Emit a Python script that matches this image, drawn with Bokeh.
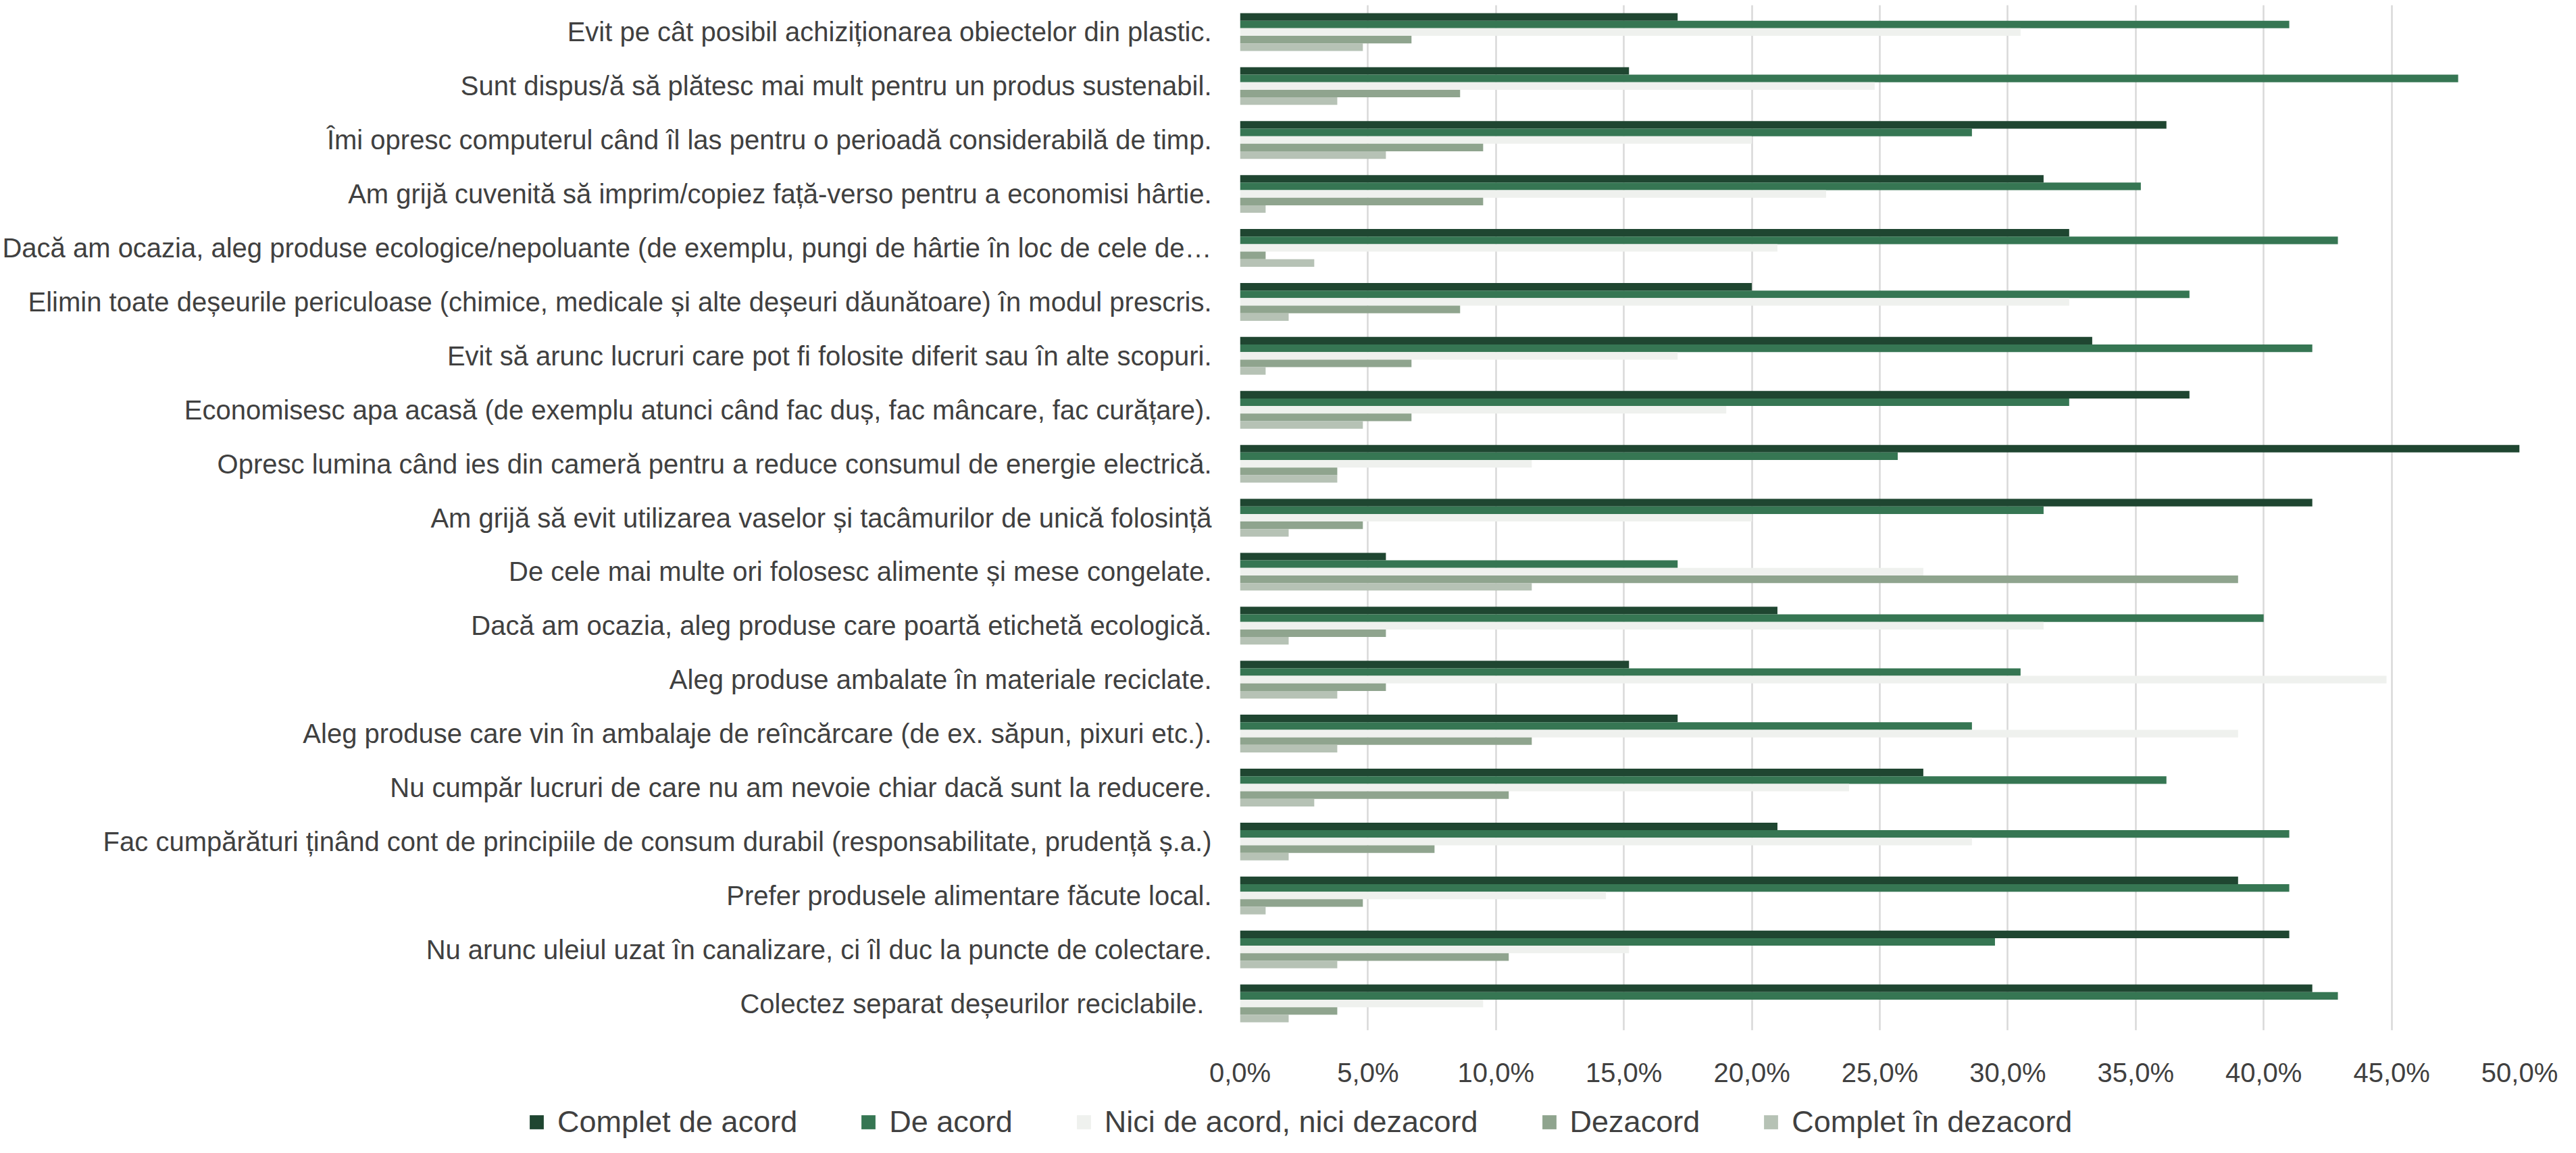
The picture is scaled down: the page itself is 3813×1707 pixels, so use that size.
from bokeh.plotting import figure
from bokeh.models import (FactorRange, Range1d, FixedTicker, Legend, LegendItem,
                          ColumnDataSource)
from bokeh.transform import dodge
from bokeh.layouts import column
from bokeh.embed import file_html
from bokeh.resources import INLINE

# ---------------- data ----------------
categories = [
    "Evit pe cât posibil achiziționarea obiectelor din plastic.",
    "Sunt dispus/ă să plătesc mai mult pentru un produs sustenabil.",
    "Îmi opresc computerul când îl las pentru o perioadă considerabilă de timp.",
    "Am grijă cuvenită să imprim/copiez față-verso pentru a economisi hârtie.",
    "Dacă am ocazia, aleg produse ecologice/nepoluante (de exemplu, pungi de hârtie în loc de cele de…",
    "Elimin toate deșeurile periculoase (chimice, medicale și alte deșeuri dăunătoare) în modul prescris.",
    "Evit să arunc lucruri care pot fi folosite diferit sau în alte scopuri.",
    "Economisesc apa acasă (de exemplu atunci când fac duș, fac mâncare, fac curățare).",
    "Opresc lumina când ies din cameră pentru a reduce consumul de energie electrică.",
    "Am grijă să evit utilizarea vaselor și tacâmurilor de unică folosință",
    "De cele mai multe ori folosesc alimente și mese congelate.",
    "Dacă am ocazia, aleg produse care poartă etichetă ecologică.",
    "Aleg produse ambalate în materiale reciclate.",
    "Aleg produse care vin în ambalaje de reîncărcare (de ex. săpun, pixuri etc.).",
    "Nu cumpăr lucruri de care nu am nevoie chiar dacă sunt la reducere.",
    "Fac cumpărături ținând cont de principiile de consum durabil (responsabilitate, prudență ș.a.)",
    "Prefer produsele alimentare făcute local.",
    "Nu arunc uleiul uzat în canalizare, ci îl duc la puncte de colectare.",
    "Colectez separat deșeurilor reciclabile. ",
]

series_names = ["Complet de acord", "De acord", "Nici de acord, nici dezacord",
                "Dezacord", "Complet în dezacord"]

complet_de_acord = [17.1, 15.2, 36.2, 31.4, 32.4, 20.0, 33.3, 37.1, 55.2, 41.9,
                    5.7, 21.0, 15.2, 17.1, 26.7, 21.0, 39.0, 41.0, 41.9]
de_acord = [41.0, 47.6, 28.6, 35.2, 42.9, 37.1, 41.9, 32.4, 25.7, 31.4,
            17.1, 40.0, 30.5, 28.6, 36.2, 41.0, 41.0, 29.5, 42.9]
nici_nici = [30.5, 24.8, 20.0, 22.9, 21.0, 32.4, 17.1, 19.0, 11.4, 20.0,
             26.7, 31.4, 44.8, 39.0, 23.8, 28.6, 14.3, 15.2, 9.5]
dezacord = [6.7, 8.6, 9.5, 9.5, 1.0, 8.6, 6.7, 6.7, 3.8, 4.8,
            39.0, 5.7, 5.7, 11.4, 10.5, 7.6, 4.8, 10.5, 3.8]
complet_dezacord = [4.8, 3.8, 5.7, 1.0, 2.9, 1.9, 1.0, 4.8, 3.8, 1.9,
                    11.4, 1.9, 3.8, 3.8, 2.9, 1.9, 1.0, 3.8, 1.9]

x_ticks = [0, 5, 10, 15, 20, 25, 30, 35, 40, 45, 50]
x_tick_labels = ["0,0%", "5,0%", "10,0%", "15,0%", "20,0%", "25,0%",
                 "30,0%", "35,0%", "40,0%", "45,0%", "50,0%"]

# ---------------- style ----------------
colors = ["#1f4631", "#367653", "#eff1ee", "#8fa48e", "#b6c2b5"]
FONT = "Liberation Sans"
TEXT = "#404040"
GRID = "#d9d9d9"

columns = ["s0", "s1", "s2", "s3", "s4"]
source = ColumnDataSource(data=dict(
    cat=categories,
    s0=complet_de_acord, s1=de_acord, s2=nici_nici, s3=dezacord, s4=complet_dezacord,
))

W = 3797
H1, H2 = 1612, 79
BL = 1833
p = figure(width=W, height=H1,
           y_range=FactorRange(factors=list(reversed(categories))),
           x_range=Range1d(0, 50),
           toolbar_location=None, output_backend="svg",
           min_border_left=BL, min_border_right=68,
           min_border_top=7, min_border_bottom=H1 - 1530)
p.outline_line_color = None
p.background_fill_color = "white"
p.border_fill_color = "white"

bar_h = 0.14
offsets = [0.28, 0.14, 0.0, -0.14, -0.28]
for col, c, off in zip(columns, colors, offsets):
    p.hbar(y=dodge("cat", off, range=p.y_range), left=0, right=col, height=bar_h,
           source=source, fill_color=c, line_color=None)

# x axis
p.xaxis.ticker = FixedTicker(ticks=x_ticks)
p.xaxis.major_label_overrides = {t: l for t, l in zip(x_ticks, x_tick_labels)}
p.xaxis.axis_line_color = None
p.xaxis.major_tick_line_color = None
p.xaxis.minor_tick_line_color = None
p.xaxis.major_label_standoff = 34
p.xaxis.major_label_text_font = FONT
p.xaxis.major_label_text_font_size = "40px"
p.xaxis.major_label_text_color = TEXT

# y axis
p.yaxis.axis_line_color = None
p.yaxis.major_tick_line_color = None
p.yaxis.minor_tick_line_color = None
p.yaxis.major_label_standoff = 36
p.yaxis.major_label_text_font = FONT
p.yaxis.major_label_text_font_size = "40px"
p.yaxis.major_label_text_color = TEXT

p.ygrid.grid_line_color = None
p.xgrid.ticker = FixedTicker(ticks=x_ticks)
p.xgrid.grid_line_color = GRID
p.xgrid.grid_line_width = 2.5

# legend strip under the chart (own figure, frame spans the whole width)
leg = figure(width=W, height=H2, x_range=Range1d(0, 1), y_range=Range1d(0, 1),
             toolbar_location=None, output_backend="svg",
             min_border_left=0, min_border_right=0,
             min_border_top=0, min_border_bottom=0,
             x_axis_location=None, y_axis_location=None)
if hasattr(leg, "frame_align"):
    leg.frame_align = False
leg.outline_line_color = None
leg.grid.visible = False
leg.background_fill_color = "white"
leg.border_fill_color = "white"
items = []
for name, c in zip(series_names, colors):
    # zero-width swatch carrier: only its colour is used by the legend
    r = leg.hbar(y=[0.5], left=[0], right=[0], height=0.5, fill_color=c, line_color=None)
    items.append(LegendItem(label=name, renderers=[r]))
legend = Legend(items=items, orientation="horizontal", location=(781, 4),
                glyph_width=26, glyph_height=26, label_standoff=18, spacing=92,
                padding=0, margin=0, border_line_color=None,
                background_fill_alpha=0,
                label_text_font=FONT, label_text_font_size="45px",
                label_text_color=TEXT)
leg.add_layout(legend, "center")

layout = column(p, leg, spacing=0)
open("out.html", "w").write(file_html(layout, INLINE))
